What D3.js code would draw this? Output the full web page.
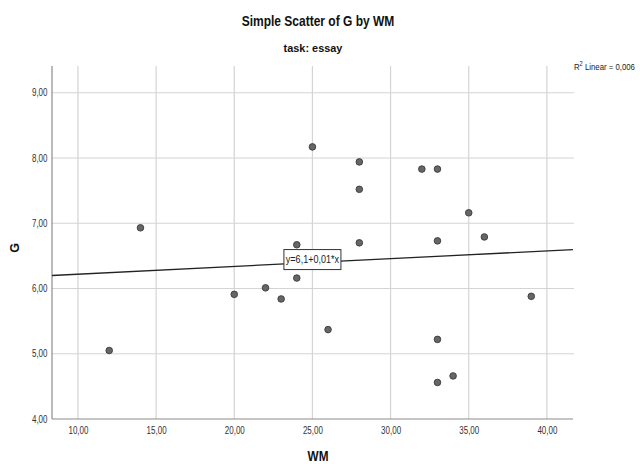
<!DOCTYPE html>
<html>
<head>
<meta charset="utf-8">
<script src="https://cdn.jsdelivr.net/npm/d3@7"></script>
<style>
  html, body { margin: 0; padding: 0; background: #fff; }
  svg { display: block; }
  text { font-family: "Liberation Sans", Arial, Helvetica, sans-serif; }
</style>
</head>
<body>
<svg id="chart" width="640" height="464"></svg>
<script>
// Working memory score (WM) and G score, task: essay
const wm = [12, 14, 25, 28, 28, 28, 24, 24, 20, 22, 23, 26, 32, 33, 33, 33, 33, 34, 35, 36, 39];
const g  = [5.05, 6.93, 8.17, 7.94, 7.52, 6.70, 6.67, 6.16, 5.91, 6.01, 5.84, 5.37,
            7.83, 7.83, 6.73, 5.22, 4.56, 4.66, 7.16, 6.79, 5.88];

const xTicks = [10, 15, 20, 25, 30, 35, 40];
const yTicks = [4, 5, 6, 7, 8, 9];

// Linear fit coefficients
const fitIntercept = 6.10;
const fitSlope = 0.0119;
const rSquared = 0.006;

const comma = s => s.replace(".", ",");
const fmt = d => comma(d3.format(".2f")(d));

const svg = d3.select("#chart");
const plotLeft = 52, plotRight = 573, plotTop = 66, plotBottom = 419;

const x = d3.scaleLinear().domain([8.34, 41.67]).range([plotLeft, plotRight]);
const y = d3.scaleLinear().domain([4, 9.41]).range([plotBottom, plotTop]);

// Text helper: condensed glyphs via a horizontal scale
function label(px, py, str, size, weight, sx, anchor, rot) {
  return svg.append("text")
    .attr("transform", `translate(${px},${py})${rot ? ` rotate(${rot})` : ""} scale(${sx},1)`)
    .attr("text-anchor", anchor || "middle")
    .attr("font-size", size).attr("font-weight", weight || "normal")
    .attr("fill", "#111").text(str);
}

// Grid lines
const grid = svg.append("g");
grid.selectAll("line.vx").data(xTicks).join("line")
  .attr("x1", d => x(d)).attr("x2", d => x(d))
  .attr("y1", plotTop).attr("y2", plotBottom)
  .attr("stroke", "#d4d4d4").attr("stroke-width", 1.2);
grid.selectAll("line.hy").data(yTicks.filter(d => d > 4)).join("line")
  .attr("x1", plotLeft).attr("x2", plotRight + 1)
  .attr("y1", d => y(d)).attr("y2", d => y(d))
  .attr("stroke", "#d4d4d4").attr("stroke-width", 1.2);

// Axes
const sxTick = 0.8;
const xAxis = d3.axisBottom(x).tickValues(xTicks).tickFormat(fmt).tickSize(0).tickPadding(8);
const yAxis = d3.axisLeft(y).tickValues(yTicks).tickFormat(fmt).tickSize(0).tickPadding(4.5);

const gx = svg.append("g").attr("transform", `translate(0,${plotBottom})`).call(xAxis);
const gy = svg.append("g").attr("transform", `translate(${plotLeft},0)`).call(yAxis);
[gx, gy].forEach(a => {
  a.select(".domain").attr("stroke", "#8c8c8c").attr("stroke-width", 1.2);
  a.selectAll("text").attr("font-size", 10).attr("fill", "#333")
    .attr("font-family", "'Liberation Sans', Arial, sans-serif")
    .attr("transform", `scale(${sxTick},1)`);
});
gy.selectAll("text").attr("x", -4.5 / sxTick);
gx.select(".domain").attr("d", `M${plotLeft},0H${plotRight}`);
gy.select(".domain").attr("d", `M0,${plotTop}V${plotBottom}`);

// Fit line
const x0 = x.domain()[0], x1 = x.domain()[1];
svg.append("line")
  .attr("x1", x(x0)).attr("y1", y(fitIntercept + fitSlope * x0))
  .attr("x2", x(x1)).attr("y2", y(fitIntercept + fitSlope * x1))
  .attr("stroke", "#222").attr("stroke-width", 1.3);

// Points
svg.append("g").selectAll("circle").data(wm.map((d, i) => [d, g[i]])).join("circle")
  .attr("cx", d => x(d[0])).attr("cy", d => y(d[1])).attr("r", 3.3)
  .attr("fill", "#666").attr("stroke", "#3a3a3a").attr("stroke-width", 0.9);

// Equation label
const eqX = 25;
const eqText = "y=" + comma(d3.format(".1f")(fitIntercept)) + "+" +
               comma(d3.format(".2f")(fitSlope)) + "*x";
const eq = svg.append("g").attr("transform", `translate(${x(eqX)},${y(fitIntercept + fitSlope * eqX) - 3})`);
eq.append("rect").attr("x", -28.5).attr("y", -10).attr("width", 57).attr("height", 20)
  .attr("fill", "#fff").attr("stroke", "#333").attr("stroke-width", 1);
eq.append("text").attr("text-anchor", "middle").attr("y", 3.6)
  .attr("transform", "scale(0.86,1)")
  .attr("font-size", 10.5).attr("fill", "#222").text(eqText);

// Titles
label(318, 26, "Simple Scatter of G by WM", 15.4, "bold", 0.78);
label(313, 52, "task: essay", 11.5, "bold", 0.95);

// Axis titles
label(318, 461, "WM", 14, "bold", 0.84);
label(19, 248, "G", 12.5, "bold", 1, "middle", -90);

// R squared annotation
const r2 = svg.append("text").attr("transform", "translate(574,70) scale(0.82,1)")
  .attr("font-size", 9.5).attr("fill", "#222");
r2.append("tspan").text("R");
r2.append("tspan").attr("dy", -4).attr("font-size", 7).text("2");
r2.append("tspan").attr("dy", 4).text(" Linear = " + comma(d3.format(".3f")(rSquared)));
</script>
</body>
</html>
